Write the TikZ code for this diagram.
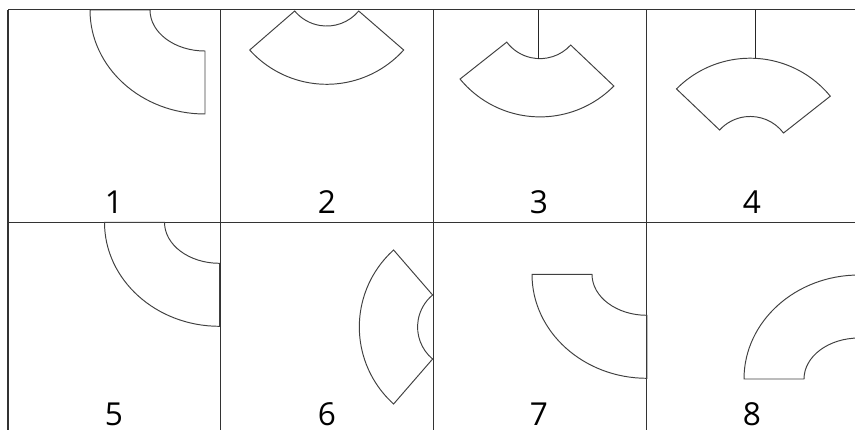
\documentclass[tikz,border=0pt]{standalone}
\usepackage{fontspec}
\setmainfont{Open Sans}

\begin{document}
\begin{tikzpicture}[
    x=0.02cm,
    y=-0.02cm,
    gridline/.style={
        line width=0.8pt,
        draw=black!80
    },
    shapeline/.style={
        line width=0.55pt,
        draw=black!75
    },
    hanger/.style={
        line width=0.55pt,
        draw=black!85
    },
    digit/.style={
        font=\fontsize{18}{20}\selectfont,
        anchor=base,
        inner sep=0pt
    },
    fan/.pic={
        \draw[shapeline] (-77,-34.3)
            arc[start angle=138, end angle=42, radius=103.6]
            -- (32,-73.3)
            arc[start angle=39.7, end angle=140.3, radius=41.6]
            -- cycle;
        \coordinate (-hook) at (0,-58.3);
        \coordinate (-peak) at (0,0);
    },
    bend/.pic={
        \draw[shapeline] (-115,0)
            arc[start angle=180, end angle=90, x radius=115, y radius=104]
            -- (0,41)
            arc[start angle=90, end angle=180, x radius=55, y radius=41]
            -- cycle;
    }
]

% Grid positions (in pixels of the sheet)
\def\GridL{8}
\def\GridR{855}
\def\GridT{9.5}
\def\GridM{222.3}
\def\GridB{430}
\def\ColB{220.7}
\def\ColC{433.3}
\def\ColD{646.5}

\clip (0,0) rectangle (855,430);

% ==================================================
% Grid
% ==================================================

\draw[gridline] (\GridL,\GridT) -- (\GridR,\GridT);
\draw[gridline] (\GridL,\GridM) -- (\GridR,\GridM);

\draw[gridline] (\GridL,\GridT) -- (\GridL,\GridB);
\draw[gridline] (\ColB,\GridT) -- (\ColB,\GridB);
\draw[gridline] (\ColC,\GridT) -- (\ColC,\GridB);
\draw[gridline] (\ColD,\GridT) -- (\ColD,\GridB);

\coordinate (topline) at (0,\GridT);

% ==================================================
% Top row
% ==================================================

\pic (bendA) at (205,10) {bend};

\pic (fanB) at (326.7,84.3) {fan};

\pic[rotate=-2.6] (fanC) at (535.4,116.8) {fan};
\coordinate (topC) at (fanC-hook |- topline);
\draw[hanger] (topC) -- (fanC-hook);

\pic[rotate=-2.7, yscale=-1] (fanD) at (755,58.3) {fan};
\coordinate (topD) at (fanD-peak |- topline);
\draw[hanger] (topD) -- (fanD-peak);

\node[digit] (n1) at (114,213) {1};
\node[digit] (n2) at (327,213) {2};
\node[digit] (n3) at (539,213) {3};
\node[digit] (n4) at (752,213) {4};

% ==================================================
% Bottom row
% ==================================================

\pic (bendE) at (219.5,222.3) {bend};

\pic[rotate=-90] (fanF) at (359.3,327) {fan};

\pic (bendG) at (647,274.3) {bend};

\pic[yscale=-1] (bendH) at (859,379) {bend};

\node[digit] (n5) at (114,425) {5};
\node[digit] (n6) at (327,425) {6};
\node[digit] (n7) at (539,425) {7};
\node[digit] (n8) at (752,425) {8};

\end{tikzpicture}
\end{document}
